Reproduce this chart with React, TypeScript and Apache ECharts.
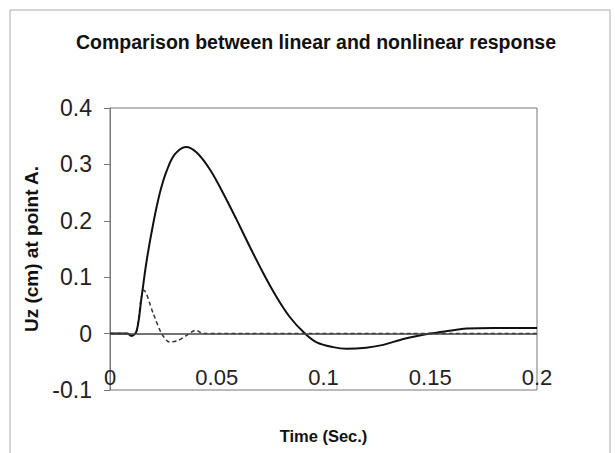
import React, { useEffect, useRef } from "react";
import * as echarts from "echarts";

const linearTime = [0, 0.008, 0.0102, 0.0125, 0.0148, 0.0172, 0.0203, 0.0234, 0.0265, 0.0304, 0.0356, 0.0406, 0.0468, 0.053, 0.0593, 0.0655, 0.0718, 0.078, 0.0843, 0.0913, 0.0968, 0.1045, 0.1108, 0.12, 0.128, 0.1374, 0.15, 0.159, 0.167, 0.18, 0.2];
const linearUz = [0, 0, -0.004, 0.005, 0.065, 0.13, 0.196, 0.25, 0.288, 0.318, 0.331, 0.321, 0.291, 0.249, 0.202, 0.154, 0.107, 0.065, 0.029, 0, -0.0155, -0.024, -0.027, -0.025, -0.02, -0.0095, 0, 0.005, 0.009, 0.01, 0.01];

const nonlinearTime = [0, 0.008, 0.0102, 0.0125, 0.0145, 0.0158, 0.0203, 0.0242, 0.028, 0.032, 0.0359, 0.0402, 0.0437, 0.05, 0.2];
const nonlinearUz = [0, 0, -0.004, 0.005, 0.06, 0.077, 0.035, 0, -0.015, -0.012, -0.003, 0.006, 0, 0, 0];

const titleText = "Comparison between linear and nonlinear response";
const xName = "Time (Sec.)";
const yName = "Uz (cm) at point A.";

const FONT = "'Liberation Sans', Arial, Helvetica, sans-serif";

export default function App() {
  const ref = useRef<HTMLDivElement>(null);
  useEffect(() => {
    document.body.style.margin = "0";
    const chart = echarts.init(ref.current!, null, { renderer: "svg" });
    const lin = linearTime.map((t, i) => [t, linearUz[i]]);
    const non = nonlinearTime.map((t, i) => [t, nonlinearUz[i]]);
    chart.setOption({
      animation: false,
      backgroundColor: "#ffffff",
      textStyle: { fontFamily: FONT },
      title: {
        text: titleText,
        left: 76,
        top: 32,
        padding: 0,
        textStyle: { fontFamily: FONT, fontSize: 19.5, fontWeight: "bold", color: "#111" },
      },
      graphic: [
        {
          type: "rect",
          shape: { x: 10, y: 10, width: 600, height: 470 },
          style: { fill: "none", stroke: "#aaaaaa", lineWidth: 1 },
          silent: true,
          z: -1,
        },
      ],
      grid: {
        left: 110,
        right: 78,
        top: 108,
        bottom: 63,
        outerBoundsMode: "none",
        containLabel: false,
        show: true,
        borderColor: "#777",
        borderWidth: 1,
        backgroundColor: "transparent",
      },
      xAxis: {
        type: "value",
        position: "bottom",
        min: 0,
        max: 0.2,
        interval: 0.05,
        name: xName,
        nameLocation: "middle",
        nameGap: 37,
        nameTextStyle: { fontFamily: FONT, fontSize: 16.5, fontWeight: "bold", color: "#111" },
        axisLine: { show: false, onZero: false },
        axisTick: { show: false },
        axisLabel: { inside: true, margin: 2, fontSize: 22, color: "#222", fontFamily: FONT },
        splitLine: { show: false },
      },
      yAxis: {
        type: "value",
        min: -0.1,
        max: 0.4,
        interval: 0.1,
        name: yName,
        nameLocation: "middle",
        nameGap: 66,
        nameRotate: 90,
        nameTextStyle: { fontFamily: FONT, fontSize: 19, fontWeight: "bold", color: "#111" },
        axisLine: { show: true, lineStyle: { color: "#777", width: 1 } },
        axisTick: { show: true, length: 6, lineStyle: { color: "#777" } },
        axisLabel: { margin: 18, fontSize: 23, color: "#222", fontFamily: FONT },
        splitLine: { show: false },
      },
      series: [
        {
          name: "Nonlinear",
          type: "line",
          data: non,
          smooth: 0.3,
          showSymbol: false,
          lineStyle: { color: "#333", width: 1.5, type: [4, 3] },
          z: 2,
        },
        {
          name: "Linear",
          type: "line",
          data: lin,
          smooth: 0.35,
          showSymbol: false,
          lineStyle: { color: "#111", width: 2 },
          z: 3,
          markLine: {
            silent: true,
            symbol: "none",
            label: { show: false },
            lineStyle: { color: "#444", width: 1.5, type: "solid" },
            data: [{ yAxis: 0 }],
          },
        },
      ],
    });
    return () => chart.dispose();
  }, []);
  return <div ref={ref} style={{ width: 615, height: 453 }} />;
}
